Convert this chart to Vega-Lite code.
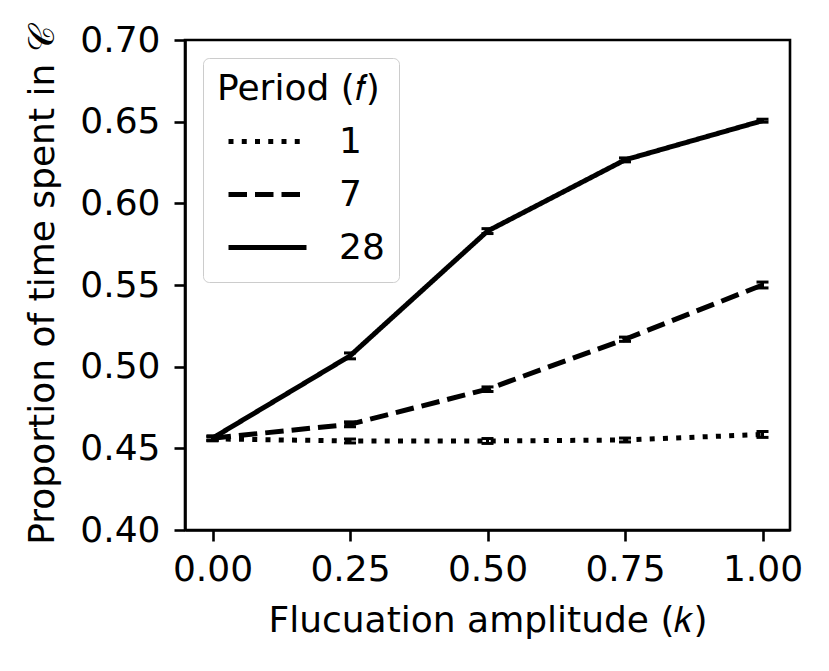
{
  "$schema": "https://vega.github.io/schema/vega-lite/v6.json",
  "width": 605,
  "height": 490,
  "autosize": {"type": "none"},
  "padding": {"left": 185, "top": 40, "right": 39, "bottom": 141},
  "background": "white",
  "config": {
    "font": "DejaVu Sans",
    "view": {"stroke": "black", "strokeWidth": 2.6},
    "axis": {
      "grid": false,
      "domainColor": "black",
      "domainWidth": 2.6,
      "tickColor": "black",
      "tickWidth": 2.6,
      "tickSize": 11,
      "labelColor": "black",
      "labelFontSize": 36,
      "titleColor": "black",
      "titleFontSize": 36,
      "titleFontWeight": "normal"
    }
  },
  "data": {
    "values": [
      {"k": 0.0, "period": "1", "y": 0.4558, "lo": 0.4546, "hi": 0.4570},
      {"k": 0.25, "period": "1", "y": 0.4545, "lo": 0.4533, "hi": 0.4557},
      {"k": 0.5, "period": "1", "y": 0.4545, "lo": 0.4530, "hi": 0.4560},
      {"k": 0.75, "period": "1", "y": 0.4551, "lo": 0.4539, "hi": 0.4563},
      {"k": 1.0, "period": "1", "y": 0.4585, "lo": 0.4567, "hi": 0.4603},
      {"k": 0.0, "period": "7", "y": 0.4562, "lo": 0.4550, "hi": 0.4574},
      {"k": 0.25, "period": "7", "y": 0.4647, "lo": 0.4632, "hi": 0.4662},
      {"k": 0.5, "period": "7", "y": 0.4862, "lo": 0.4848, "hi": 0.4876},
      {"k": 0.75, "period": "7", "y": 0.5168, "lo": 0.5155, "hi": 0.5181},
      {"k": 1.0, "period": "7", "y": 0.5500, "lo": 0.5482, "hi": 0.5518},
      {"k": 0.0, "period": "28", "y": 0.4562, "lo": 0.4548, "hi": 0.4576},
      {"k": 0.25, "period": "28", "y": 0.5066, "lo": 0.5048, "hi": 0.5084},
      {"k": 0.5, "period": "28", "y": 0.5830, "lo": 0.5815, "hi": 0.5845},
      {"k": 0.75, "period": "28", "y": 0.6266, "lo": 0.6254, "hi": 0.6278},
      {"k": 1.0, "period": "28", "y": 0.6506, "lo": 0.6497, "hi": 0.6515}
    ]
  },
  "encoding": {
    "x": {
      "field": "k",
      "type": "quantitative",
      "scale": {"domain": [-0.05, 1.05], "nice": false, "zero": false},
      "axis": {
        "title": "Flucuation amplitude (𝑘)",
        "values": [0, 0.25, 0.5, 0.75, 1],
        "format": ".2f",
        "labelPadding": 11,
        "titlePadding": 16
      }
    }
  },
  "layer": [
    {
      "mark": {"type": "rule", "color": "black", "strokeWidth": 3},
      "encoding": {
        "y": {"field": "lo", "type": "quantitative"},
        "y2": {"field": "hi"}
      }
    },
    {
      "mark": {"type": "tick", "orient": "horizontal", "color": "black", "opacity": 1, "size": 12, "thickness": 3},
      "encoding": {"y": {"field": "lo", "type": "quantitative"}}
    },
    {
      "mark": {"type": "tick", "orient": "horizontal", "color": "black", "opacity": 1, "size": 12, "thickness": 3},
      "encoding": {"y": {"field": "hi", "type": "quantitative"}}
    },
    {
      "mark": {"type": "line", "color": "black", "strokeWidth": 5},
      "encoding": {
        "y": {
          "field": "y",
          "type": "quantitative",
          "scale": {"domain": [0.4, 0.7], "nice": false, "zero": false},
          "axis": {
            "title": "Proportion of time spent in 𝒞",
            "values": [0.4, 0.45, 0.5, 0.55, 0.6, 0.65, 0.7],
            "format": ".2f",
            "labelPadding": 14,
            "titlePadding": 18
          }
        },
        "detail": {"field": "period"},
        "strokeDash": {
          "field": "period",
          "type": "nominal",
          "sort": ["1", "7", "28"],
          "scale": {"domain": ["1", "7", "28"], "range": [[5, 8.25], [18.5, 8], [1, 0]]},
          "legend": {
            "title": "Period (𝑓)",
            "orient": "top-left",
            "offset": 18,
            "fillColor": "white",
            "strokeColor": "#cccccc",
            "cornerRadius": 6,
            "padding": 14,
            "titleFontSize": 36,
            "titleFontWeight": "normal",
            "titleColor": "black",
            "titlePadding": 13,
            "labelFontSize": 36,
            "labelColor": "black",
            "labelOffset": 30,
            "symbolType": "stroke",
            "symbolSize": 6084,
            "symbolStrokeWidth": 5,
            "symbolStrokeColor": "black",
            "symbolOffset": 9,
            "clipHeight": 41,
            "rowPadding": 12
          }
        }
      }
    }
  ]
}
